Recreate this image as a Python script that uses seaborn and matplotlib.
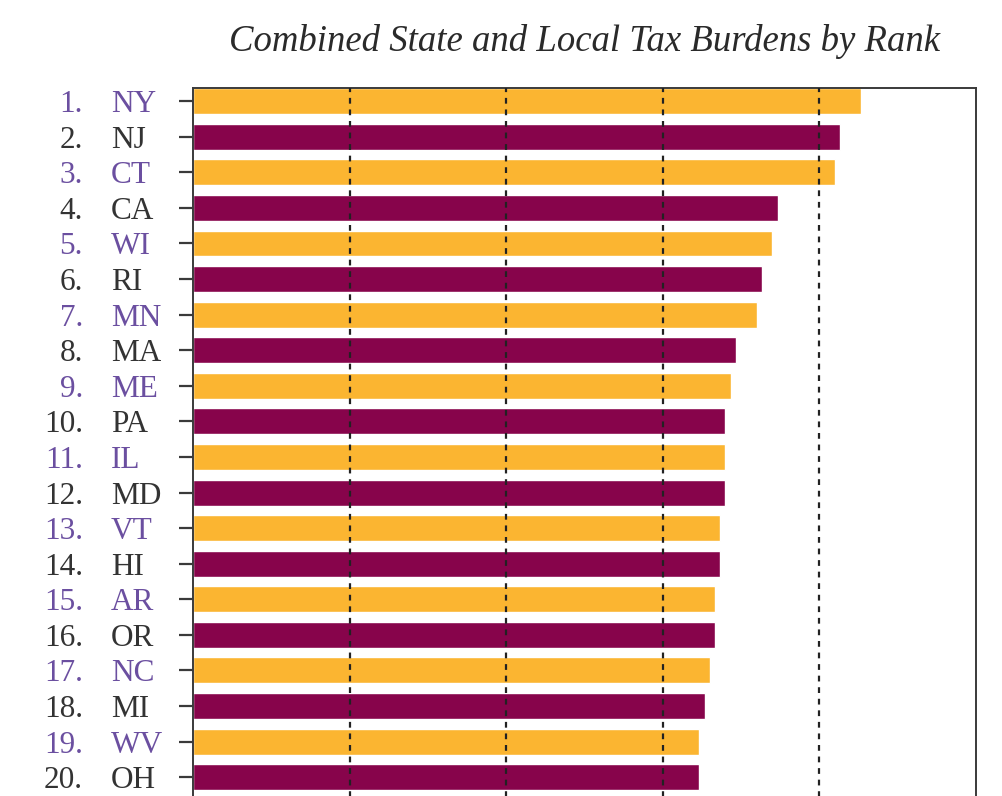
import matplotlib
matplotlib.use("Agg")
import matplotlib.pyplot as plt
import matplotlib.transforms as mtransforms
import seaborn as sns
import pandas as pd

states = ["NY", "NJ", "CT", "CA", "WI", "RI", "MN", "MA", "ME", "PA",
          "IL", "MD", "VT", "HI", "AR", "OR", "NC", "MI", "WV", "OH"]
ranks = [f"{i}." for i in range(1, 21)]
burden = [12.8, 12.4, 12.3, 11.2, 11.1, 10.9, 10.8, 10.4, 10.3, 10.2,
          10.2, 10.2, 10.1, 10.1, 10.0, 10.0, 9.9, 9.8, 9.7, 9.7]

gold = "#FBB531"
purple = "#87044B"
txt_purple = "#6B4FA0"
txt_dark = "#333333"

df = pd.DataFrame({"state": states, "burden": burden})
palette = [gold if i % 2 == 0 else purple for i in range(len(states))]

sns.set_style("white")
plt.rcParams["font.family"] = ["Liberation Serif", "DejaVu Serif"]

fig = plt.figure(figsize=(10.03, 7.96), dpi=100)
ax = fig.add_axes([193 / 1003, 1 - 812.8 / 796, 783 / 1003, 724.8 / 796])

sns.barplot(data=df, y="state", x="burden", hue="state", palette=palette,
            orient="h", width=0.73, legend=False, ax=ax, saturation=1)

ax.set_xlim(0, 15)
ax.set_ylim(20.0, -0.37)
ax.set_xticks([3, 6, 9, 12])
ax.set_xticklabels([])
ax.xaxis.grid(True, linestyle=(0, (2.6, 2.6)), color="#222222", linewidth=1.6)
ax.yaxis.grid(False)
ax.set_axisbelow(False)
for b in ax.patches:
    b.set_zorder(1)
for gl in ax.get_xgridlines():
    gl.set_zorder(2)
ax.tick_params(axis="x", length=0)
ax.tick_params(axis="y", left=True, length=10, width=1.6, color="#3a3a3a")
ax.set_yticks(range(len(states)))
ax.set_yticklabels([])
ax.set_xlabel("")
ax.set_ylabel("")
for s in ax.spines.values():
    s.set_color("#3a3a3a")
    s.set_linewidth(1.4)

trans = mtransforms.blended_transform_factory(ax.transAxes, ax.transData)
for i, (r, st) in enumerate(zip(ranks, states)):
    c = txt_purple if i % 2 == 0 else txt_dark
    ax.text(-0.1405, i, r, transform=trans, ha="right", va="center_baseline",
            fontsize=22.5, color=c, clip_on=False)
    ax.text(-0.1047, i, st, transform=trans, ha="left", va="center_baseline",
            fontsize=22.5, color=c, clip_on=False)

fig.text(585 / 1003, 1 - 51 / 796, "Combined State and Local Tax Burdens by Rank",
         ha="center", va="baseline", fontsize=26.5, style="italic", color="#2a2a2a")

fig.savefig("out.png", dpi=100)
